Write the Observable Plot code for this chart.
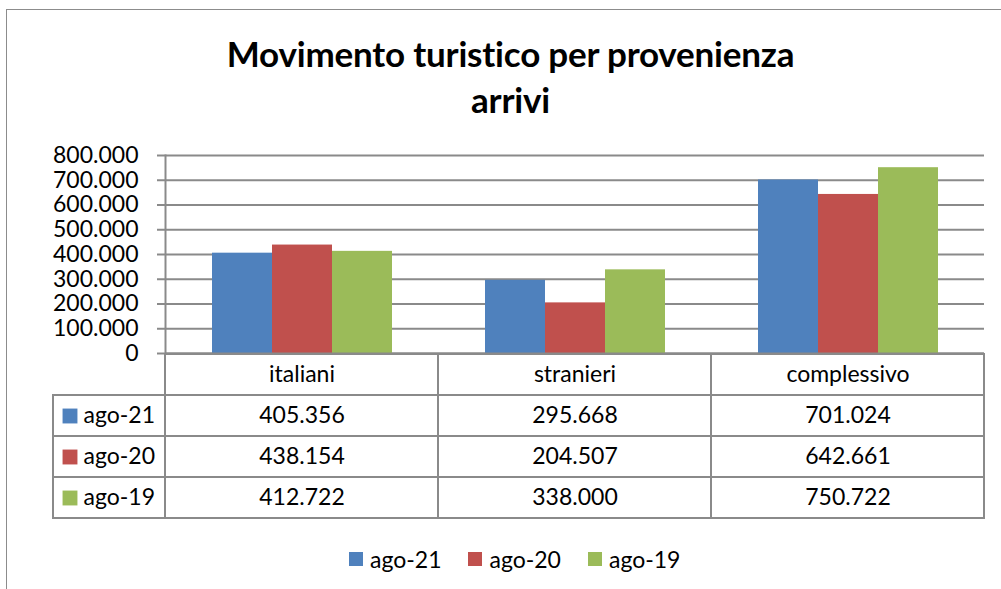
<!DOCTYPE html>
<html>
<head>
<meta charset="utf-8">
<script src="https://cdn.jsdelivr.net/npm/d3@7"></script>
<script src="https://cdn.jsdelivr.net/npm/@observablehq/plot@0.6"></script>
<style>
  body { margin: 0; background: #fff; }
  #wrap { position: relative; width: 1001px; height: 589px; overflow: hidden; background: #fff; font-family: Lato, sans-serif; color: #000; }
  #frame { position: absolute; left: 6px; top: 9px; width: 1100px; height: 700px; border: 1.5px solid #8c8c8c; box-sizing: border-box; }
  #title { position: absolute; left: 0; top: 30px; width: 1021px; text-align: center; font-weight: bold; font-size: 35px; line-height: 46px; letter-spacing: -0.2px; }
  .abs { position: absolute; }
  #legend .leg-swatches { font-family: Lato, sans-serif !important; font-size: 23px !important; color: #000; margin: 0 !important; }
  #legend .leg-swatches-wrap { min-height: 33px !important; flex-wrap: nowrap !important; }
  #legend .leg-swatch { margin-right: 27px !important; }
  #legend .leg-swatch > svg { margin-right: 7px !important; }
</style>
</head>
<body>
<div id="wrap">
  <div id="frame"></div>
  <div id="title">Movimento turistico per provenienza<br>arrivi</div>
  <div id="bars" class="abs" style="left:0;top:0;"></div>
  <div id="table" class="abs" style="left:0;top:343px;"></div>
  <div id="key" class="abs" style="left:43px;top:343px;"></div>
  <div id="legend" class="abs" style="left:349px;top:542px;"></div>
</div>
<script>
const categories = ["italiani", "stranieri", "complessivo"];
const series = ["ago-21", "ago-20", "ago-19"];
const ago21 = [405356, 295668, 701024];
const ago20 = [438154, 204507, 642661];
const ago19 = [412722, 338000, 750722];
const colors = ["#4F81BD", "#C0504D", "#9BBB59"];
const yTicks = [0, 100000, 200000, 300000, 400000, 500000, 600000, 700000, 800000];

const seriesValues = [ago21, ago20, ago19];
const fmt = d3.formatLocale({decimal: ",", thousands: ".", grouping: [3], currency: ["€", ""]}).format(",d");

const data = [];
series.forEach((s, i) => categories.forEach((c, j) => data.push({category: c, series: s, value: seriesValues[i][j]})));

const grid = "#8a8a8a";
const colorScale = {domain: series, range: colors};

const bars = Plot.plot({
  width: 1001, height: 360,
  marginTop: 155, marginBottom: 7, marginLeft: 165, marginRight: 17,
  style: {fontFamily: "Lato, sans-serif", fontSize: "23px", color: "#000", background: "transparent", overflow: "visible"},
  fx: {domain: categories, padding: 0, axis: null, label: null},
  x: {domain: series, paddingInner: 0, paddingOuter: 0.756, axis: null},
  y: {domain: [0, 800000], axis: null},
  color: colorScale,
  marks: [
    Plot.ruleY(yTicks, {stroke: grid, strokeWidth: 2}),
    Plot.barY(data, {fx: "category", x: "series", y: "value", fill: "series", inset: 0}),
    Plot.ruleY([0], {stroke: grid, strokeWidth: 2}),
    Plot.axisY({ticks: yTicks, tickFormat: fmt, tickSize: 8, tickPadding: 19, stroke: grid, strokeWidth: 2, fill: "#000", fontSize: 23, label: null}),
    Plot.frame({anchor: "left", facetAnchor: "left", stroke: grid, strokeWidth: 2})
  ]
});
document.getElementById("bars").appendChild(bars);

const rows = ["header", ...series];
const cells = [];
categories.forEach((c, j) => {
  cells.push({category: c, row: "header", label: c});
  series.forEach((s, i) => cells.push({category: c, row: s, label: fmt(seriesValues[i][j])}));
});

const table = Plot.plot({
  width: 1001, height: 185,
  marginTop: 10, marginBottom: 10, marginLeft: 165, marginRight: 17,
  style: {fontFamily: "Lato, sans-serif", fontSize: "23px", color: "#000", background: "transparent", overflow: "visible"},
  x: {domain: categories, padding: 0, axis: null},
  y: {domain: rows, padding: 0, axis: null},
  marks: [
    Plot.cell(cells, {x: "category", y: "row", stroke: grid, strokeWidth: 2, fill: "none", inset: 0}),
    Plot.text(cells, {x: "category", y: "row", text: "label", fontSize: 23, fill: "#000"})
  ]
});
document.getElementById("table").appendChild(table);

const key = Plot.plot({
  width: 122, height: 185,
  marginTop: 10, marginBottom: 10, marginLeft: 10, marginRight: 0,
  style: {fontFamily: "Lato, sans-serif", fontSize: "23px", color: "#000", background: "transparent", overflow: "visible"},
  y: {domain: rows, padding: 0, axis: null},
  color: colorScale,
  marks: [
    Plot.cell(series, {y: d => d, stroke: grid, strokeWidth: 2, fill: "none", inset: 0}),
    Plot.dot(series, {y: d => d, frameAnchor: "left", dx: 16.5, symbol: "square", r: 8.4, fill: d => d, stroke: null}),
    Plot.text(series, {y: d => d, text: d => d, frameAnchor: "left", dx: 30, textAnchor: "start", fontSize: 23, fill: "#000"})
  ]
});
document.getElementById("key").appendChild(key);

const legend = Plot.legend({color: {type: "ordinal", ...colorScale}, legend: "swatches", swatchSize: 14, className: "leg"});
document.getElementById("legend").appendChild(legend);
</script>
</body>
</html>
